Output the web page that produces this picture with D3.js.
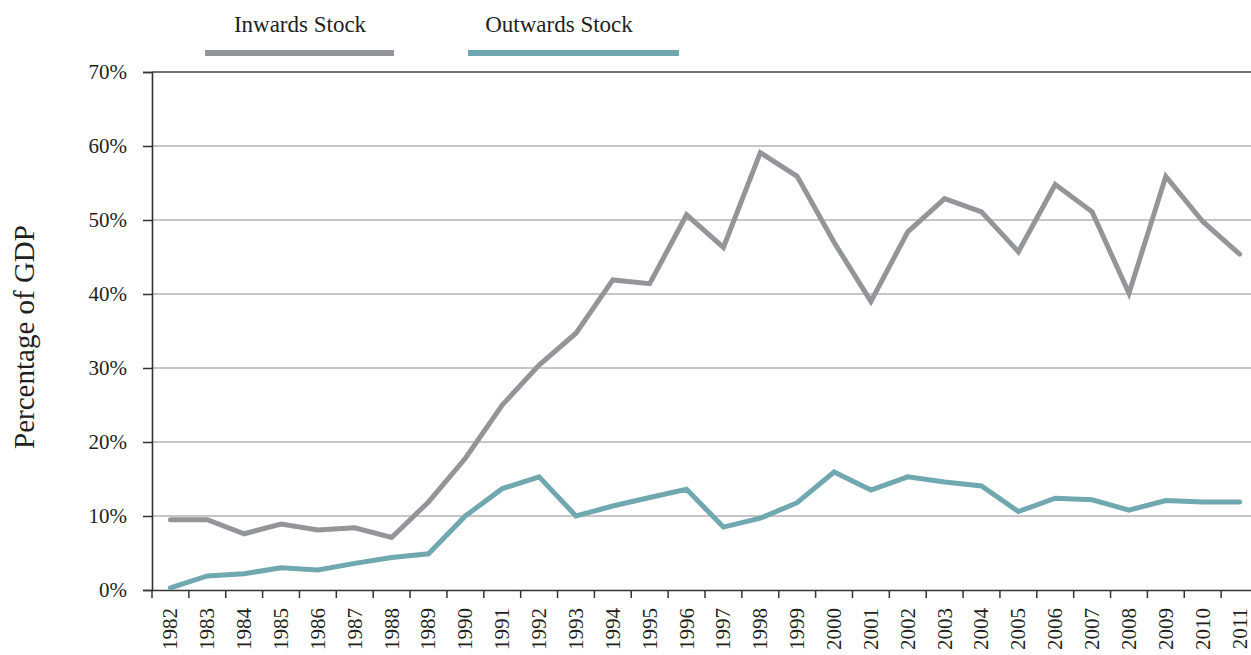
<!DOCTYPE html>
<html>
<head>
<meta charset="utf-8">
<script src="https://cdn.jsdelivr.net/npm/d3@7"></script>
<style>
  html, body { margin: 0; padding: 0; background: #fff; }
  svg { display: block; }
  text { font-family: "Liberation Serif", "DejaVu Serif", serif; fill: #231f20; }
</style>
</head>
<body>
<svg id="chart" width="1251" height="655"></svg>
<script>
const years = ["1982","1983","1984","1985","1986","1987","1988","1989","1990","1991","1992","1993","1994","1995","1996","1997","1998","1999","2000","2001","2002","2003","2004","2005","2006","2007","2008","2009","2010","2011"];
const inwardsStock = [9.5, 9.5, 7.6, 8.9, 8.1, 8.4, 7.1, 11.9, 17.8, 25.0, 30.4, 34.7, 41.9, 41.4, 50.7, 46.3, 59.1, 55.9, 47.0, 39.0, 48.4, 52.9, 51.1, 45.7, 54.8, 51.1, 40.1, 55.9, 49.8, 45.4];
const outwardsStock = [0.3, 1.9, 2.2, 3.0, 2.7, 3.6, 4.4, 4.9, 10.0, 13.7, 15.3, 10.0, 11.35, 12.5, 13.6, 8.5, 9.7, 11.8, 15.95, 13.5, 15.3, 14.6, 14.05, 10.6, 12.4, 12.2, 10.8, 12.1, 11.9, 11.9];
const yTicks = [0, 10, 20, 30, 40, 50, 60, 70];
const seriesNames = ["Inwards Stock", "Outwards Stock"];
const seriesColors = ["#939598", "#70a8b0"];

const svg = d3.select("#chart");
const mLeft = 152, mRight = 1258, mTop = 72, mBottom = 590;

const x = d3.scaleBand().domain(years).range([mLeft, mRight]).padding(0);
const y = d3.scaleLinear().domain([0, 70]).range([mBottom, mTop]);

// gridlines
svg.append("g")
  .selectAll("line")
  .data(yTicks.filter(d => d > 0 && d < 70))
  .join("line")
  .attr("x1", mLeft).attr("x2", 1251)
  .attr("y1", d => y(d)).attr("y2", d => y(d))
  .attr("stroke", "#b3b3b3").attr("stroke-width", 1.3);

// top border at 70%
svg.append("line")
  .attr("x1", mLeft).attr("x2", 1251)
  .attr("y1", y(70)).attr("y2", y(70))
  .attr("stroke", "#444").attr("stroke-width", 1.5);

// y axis
const yAxis = svg.append("g")
  .attr("transform", `translate(${mLeft},0)`)
  .call(d3.axisLeft(y).tickValues(yTicks).tickFormat(d => d + "%").tickSize(9).tickPadding(16));
yAxis.select(".domain").attr("stroke", "#333").attr("stroke-width", 1.6);
yAxis.selectAll(".tick line").attr("stroke", "#333").attr("stroke-width", 1.5);
yAxis.selectAll(".tick text")
  .style("font-family", "Liberation Serif, serif")
  .style("font-size", "21px").attr("fill", "#231f20");

// x axis
const xAxis = svg.append("g")
  .attr("transform", `translate(0,${mBottom})`)
  .call(d3.axisBottom(x).tickSize(0).tickPadding(0));
xAxis.select(".domain").attr("stroke", "#333").attr("stroke-width", 1.6);
xAxis.selectAll(".tick text")
  .style("font-family", "Liberation Serif, serif")
  .style("font-size", "21px").attr("fill", "#231f20")
  .attr("transform", "rotate(-90)")
  .attr("text-anchor", "end")
  .attr("x", -18).attr("y", 0).attr("dy", "0.33em");
// x boundary ticks
svg.append("g")
  .selectAll("line")
  .data(years)
  .join("line")
  .attr("x1", d => x(d)).attr("x2", d => x(d))
  .attr("y1", mBottom).attr("y2", mBottom + 8)
  .attr("stroke", "#333").attr("stroke-width", 1.5);

// lines
const lineGen = d3.line()
  .x((d, i) => x(years[i]) + x.bandwidth() / 2)
  .y(d => y(d));
[inwardsStock, outwardsStock].forEach((s, k) => {
  svg.append("path")
    .datum(s)
    .attr("d", lineGen)
    .attr("fill", "none")
    .attr("stroke", seriesColors[k])
    .attr("stroke-width", 5)
    .attr("stroke-linejoin", "miter")
    .attr("stroke-linecap", "round");
});

// legend
const legendItems = [
  { name: seriesNames[0], color: seriesColors[0], x1: 205, x2: 394, tx: 300 },
  { name: seriesNames[1], color: seriesColors[1], x1: 468, x2: 679, tx: 559 }
];
const lg = svg.append("g");
lg.selectAll("line").data(legendItems).join("line")
  .attr("x1", d => d.x1).attr("x2", d => d.x2)
  .attr("y1", 53).attr("y2", 53)
  .attr("stroke", d => d.color).attr("stroke-width", 6);
lg.selectAll("text").data(legendItems).join("text")
  .attr("x", d => d.tx).attr("y", 32)
  .attr("text-anchor", "middle")
  .style("font-size", "23px")
  .text(d => d.name);

// y title
svg.append("text")
  .attr("transform", `translate(34,${(mTop + mBottom) / 2 + 6}) rotate(-90)`)
  .attr("text-anchor", "middle")
  .style("font-size", "29px")
  .text("Percentage of GDP");
</script>
</body>
</html>
